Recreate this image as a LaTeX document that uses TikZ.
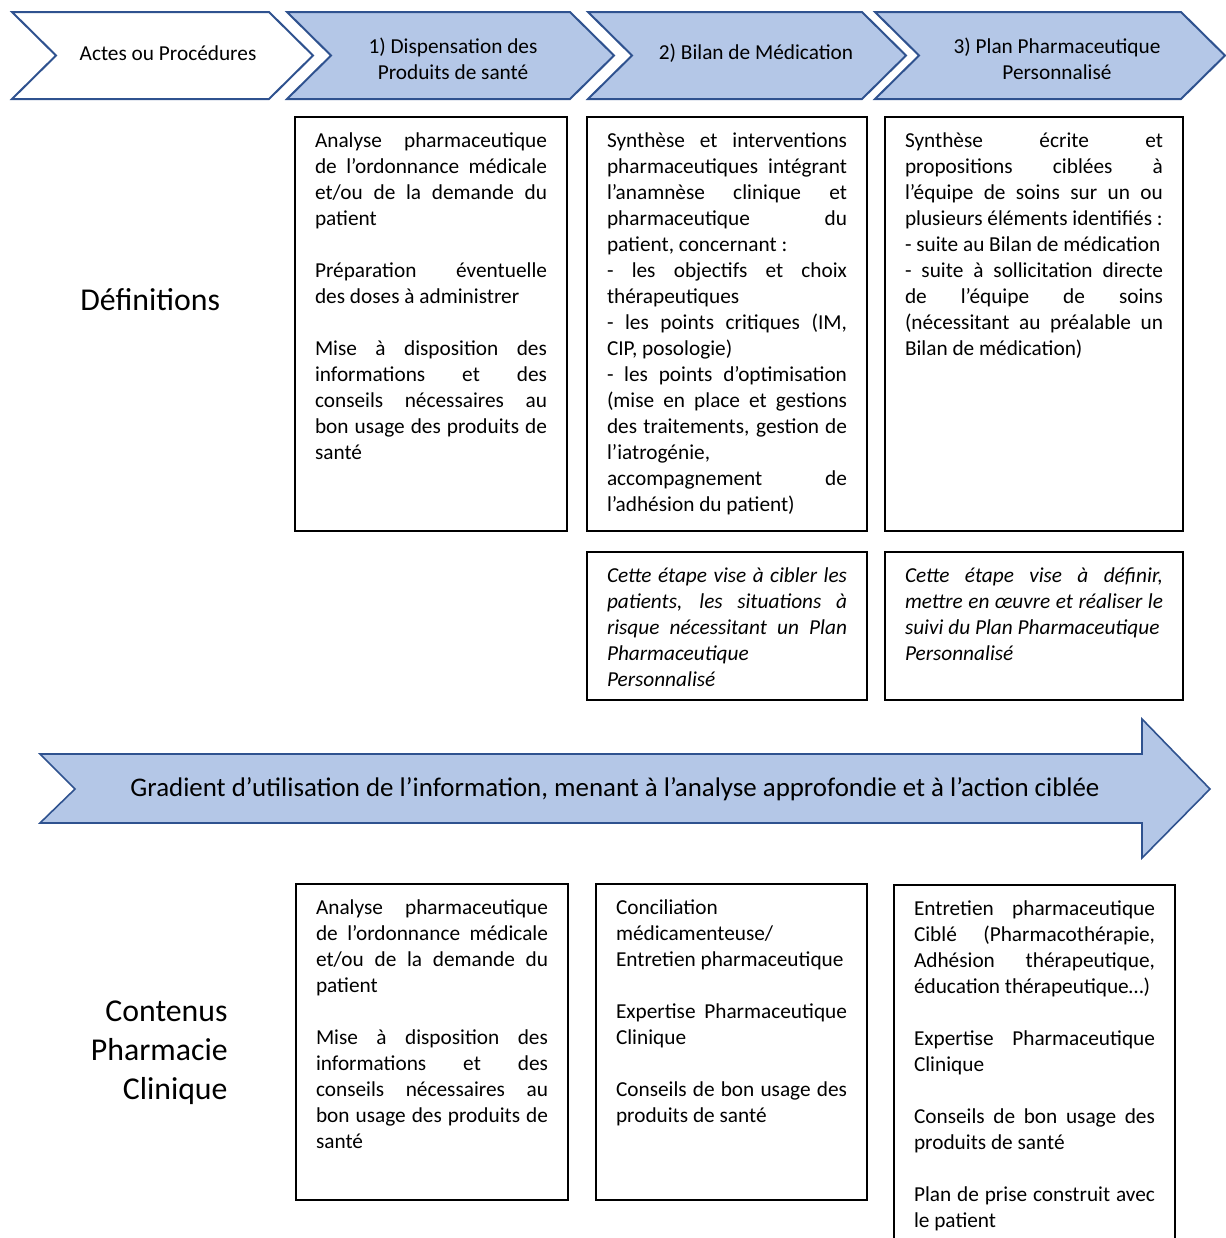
\documentclass[tikz,border=0pt]{standalone}
\usepackage{fontspec}
\setmainfont{Carlito}
\definecolor{stepFill}{HTML}{B4C7E7}
\definecolor{stepLine}{HTML}{2F528F}
\newcommand{\boxtext}[3]{\parbox[t][#2][t]{#1}{\hyphenpenalty=10000 \exhyphenpenalty=10000 #3}}

\begin{document}
\begin{tikzpicture}[x=0.5pt, y=-0.5pt,
  chevron/.style={draw=stepLine, line width=1pt, line join=miter},
  steptext/.style={font=\fontsize{10.65}{13}\selectfont, align=center, inner sep=0pt},
  infobox/.style={draw, line width=0.65pt, anchor=north west, outer sep=0pt,
    inner xsep=10pt, inner ysep=8pt, font=\fontsize{10.65}{13}\selectfont},
  rowlabel/.style={inner sep=0pt, align=right, font=\fontsize{15.9}{19.5}\selectfont}]

  \useasboundingbox (0,0) rectangle (1226,1238);

  % chevrons on top
  \foreach \l/\r/\c in {12/269/white, 287/570/stepFill, 588/862/stepFill, 875/1181/stepFill}
    \draw[chevron, fill=\c] (\l,12) -- (\r,12) -- (\r+44,55.5) -- (\r,99)
      -- (\l,99) -- (\l+44,55.5) -- cycle;

  \node[steptext] (actes) at (168,53) {Actes ou Procédures};
  \node[steptext] (dispensation) at (453,59) {1) Dispensation des\\Produits de santé};
  \node[steptext] (bilan) at (756,53) {2) Bilan de Médication};
  \node[steptext] (plan) at (1057,59) {3) Plan Pharmaceutique\\Personnalisé};

  % row labels
  \node[rowlabel, anchor=west] (definitions) at (80,300) {Définitions};
  \node[rowlabel, anchor=east] (contenus) at (228,1053) {Contenus\\Pharmacie\\Clinique};

  % definitions
  \node[infobox] (defDisp) at (295,117) {\boxtext{116pt}{191pt}{%
    Analyse pharmaceutique\linebreak de l’ordonnance médicale\linebreak
    et/ou de la demande du\linebreak patient\\[13pt]
    Préparation éventuelle\linebreak des doses à administrer\\[13pt]
    Mise à disposition des\linebreak informations et des\linebreak
    conseils nécessaires au\linebreak bon usage des produits de\linebreak santé}};

  \node[infobox] (defBilan) at (587,117) {\boxtext{120pt}{191pt}{%
    Synthèse et interventions\linebreak pharmaceutiques intégrant\linebreak
    l’anamnèse clinique et\linebreak pharmaceutique du\linebreak
    patient, concernant~:\\
    - les objectifs et choix\linebreak thérapeutiques\\
    - les points critiques (IM,\linebreak CIP, posologie)\\
    - les points d’optimisation\linebreak (mise en place et gestions\linebreak
    des traitements, gestion de\linebreak l’iatrogénie,\\
    accompagnement de\linebreak l’adhésion du patient)}};

  \node[infobox] (defPlan) at (885,117) {\boxtext{129pt}{191pt}{%
    Synthèse écrite et\linebreak propositions ciblées à\linebreak
    l’équipe de soins sur un ou\linebreak plusieurs éléments identifiés~:\\
    - suite au Bilan de médication\\
    - suite à sollicitation directe\linebreak de l’équipe de soins\linebreak
    (nécessitant au préalable un\linebreak Bilan de médication)}};

  \node[infobox, font=\fontsize{10.65}{13}\selectfont\itshape] (butBilan) at (587,552) {\boxtext{120pt}{58pt}{%
    Cette étape vise à cibler les\linebreak patients, les situations à\linebreak
    risque nécessitant un Plan\linebreak Pharmaceutique\\ Personnalisé}};

  \node[infobox, font=\fontsize{10.65}{13}\selectfont\itshape] (butPlan) at (885,552) {\boxtext{129pt}{58pt}{%
    Cette étape vise à définir,\linebreak mettre en œuvre et réaliser le\linebreak
    suivi du Plan Pharmaceutique\\ Personnalisé}};

  % gradient arrow
  \draw[chevron, line width=0.8pt, fill=stepFill] (40,754) -- (1142,754) -- (1142,719)
    -- (1210,789) -- (1142,858) -- (1142,823) -- (40,823) -- (75,789) -- cycle;
  \node[steptext, font=\fontsize{13.45}{16}\selectfont] (gradient) at (615,789)
    {Gradient d’utilisation de l’information, menant à l’analyse approfondie et à l’action ciblée};

  % contenus
  \node[infobox] (conDisp) at (296,884) {\boxtext{116pt}{142pt}{%
    Analyse pharmaceutique\linebreak de l’ordonnance médicale\linebreak
    et/ou de la demande du\linebreak patient\\[13pt]
    Mise à disposition des\linebreak informations et des\linebreak
    conseils nécessaires au\linebreak bon usage des produits de\linebreak santé}};

  \node[infobox] (conBilan) at (596,884) {\boxtext{115.5pt}{142pt}{%
    Conciliation\\ médicamenteuse/\\ Entretien pharmaceutique\\[13pt]
    Expertise Pharmaceutique\linebreak Clinique\\[13pt]
    Conseils de bon usage des\linebreak produits de santé}};

  \node[infobox] (conPlan) at (894,885) {\boxtext{120.5pt}{166.5pt}{%
    Entretien pharmaceutique\linebreak Ciblé (Pharmacothérapie,\linebreak
    Adhésion thérapeutique,\linebreak éducation thérapeutique…)\\[13pt]
    Expertise Pharmaceutique\linebreak Clinique\\[13pt]
    Conseils de bon usage des\linebreak produits de santé\\[13pt]
    Plan de prise construit avec\linebreak le patient}};

\end{tikzpicture}
\end{document}
